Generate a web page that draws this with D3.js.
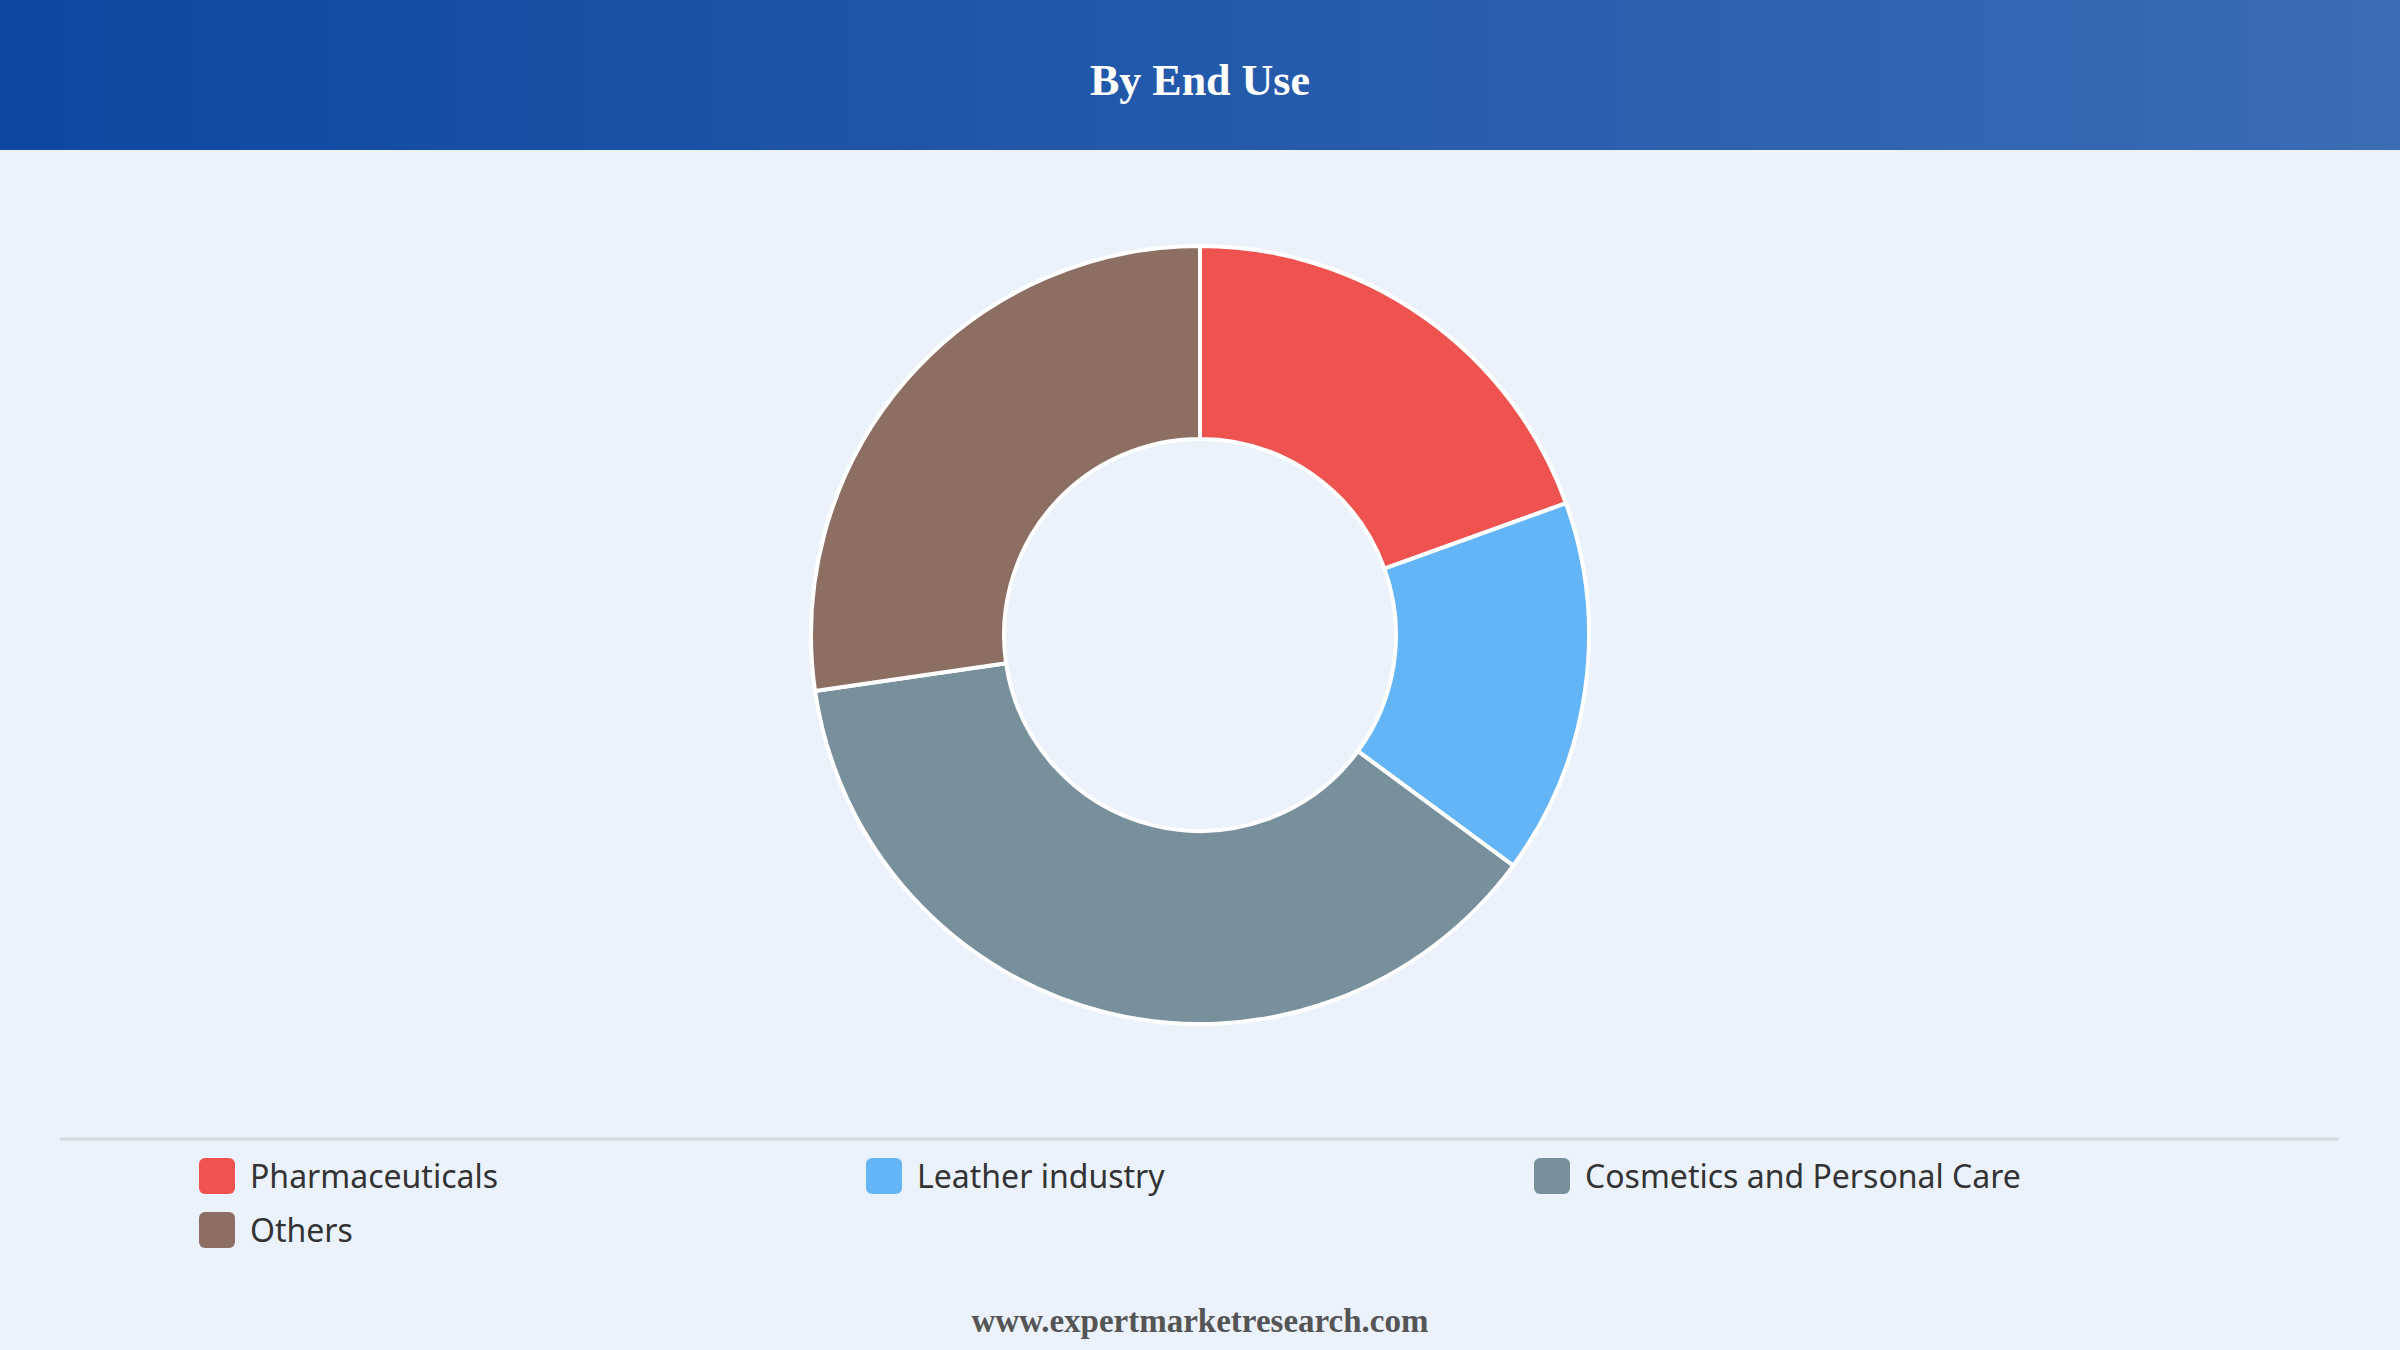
<!DOCTYPE html>
<html><head><meta charset="utf-8">
<script src="https://cdn.jsdelivr.net/npm/d3@7"></script>
<style>body{margin:0;background:#ecf2fc;}svg{display:block}</style>
</head><body>
<script>
const categories = ["Pharmaceuticals","Leather industry","Cosmetics and Personal Care","Others"];
const values = [19.5, 15.6, 37.6, 27.3];
const colors = ["#ef5350","#64b5f6","#78909c","#8d6e63"];
const title = "By End Use";
const footer = "www.expertmarketresearch.com";

const W=2400,H=1350;
const svg=d3.select("body").append("svg").attr("width",W).attr("height",H);
const defs=svg.append("defs");
const g=defs.append("linearGradient").attr("id","hg");
g.append("stop").attr("offset","0%").attr("stop-color","#0d47a1");
g.append("stop").attr("offset","100%").attr("stop-color","#3b6cb4");
svg.append("rect").attr("width",W).attr("height",H).attr("fill","#ecf2fc");
svg.append("rect").attr("width",W).attr("height",150).attr("fill","url(#hg)");
svg.append("text").attr("x",W/2).attr("y",95).attr("text-anchor","middle")
  .attr("font-family","Liberation Serif, serif").attr("font-weight","bold").attr("font-size",44)
  .attr("fill","#fff").text(title);

const pie=d3.pie().sort(null)(values);
const arc=d3.arc().innerRadius(196).outerRadius(389);
svg.append("g").attr("transform","translate(1200,635)").selectAll("path").data(pie).join("path")
  .attr("d",arc).attr("fill",(d,i)=>colors[i]).attr("stroke","#fff").attr("stroke-width",4);

svg.append("line").attr("x1",60).attr("x2",2339).attr("y1",1139).attr("y2",1139).attr("stroke","#d6dbe2").attr("stroke-width",3);
const colX=[199,866,1534];
categories.forEach((c,i)=>{
  const x=colX[i%3], y=1176+Math.floor(i/3)*54;
  svg.append("rect").attr("x",x).attr("y",y-18).attr("width",36).attr("height",36).attr("rx",6).attr("fill",colors[i]);
  svg.append("text").attr("x",x+51).attr("y",y+12).attr("font-family","Noto Sans, sans-serif")
    .attr("font-size",32).attr("fill","#333").text(c);
});
svg.append("text").attr("x",W/2).attr("y",1332).attr("text-anchor","middle")
  .attr("font-family","Liberation Serif, serif").attr("font-weight","bold").attr("font-size",33)
  .attr("fill","#555").text(footer);
</script>
</body></html>
